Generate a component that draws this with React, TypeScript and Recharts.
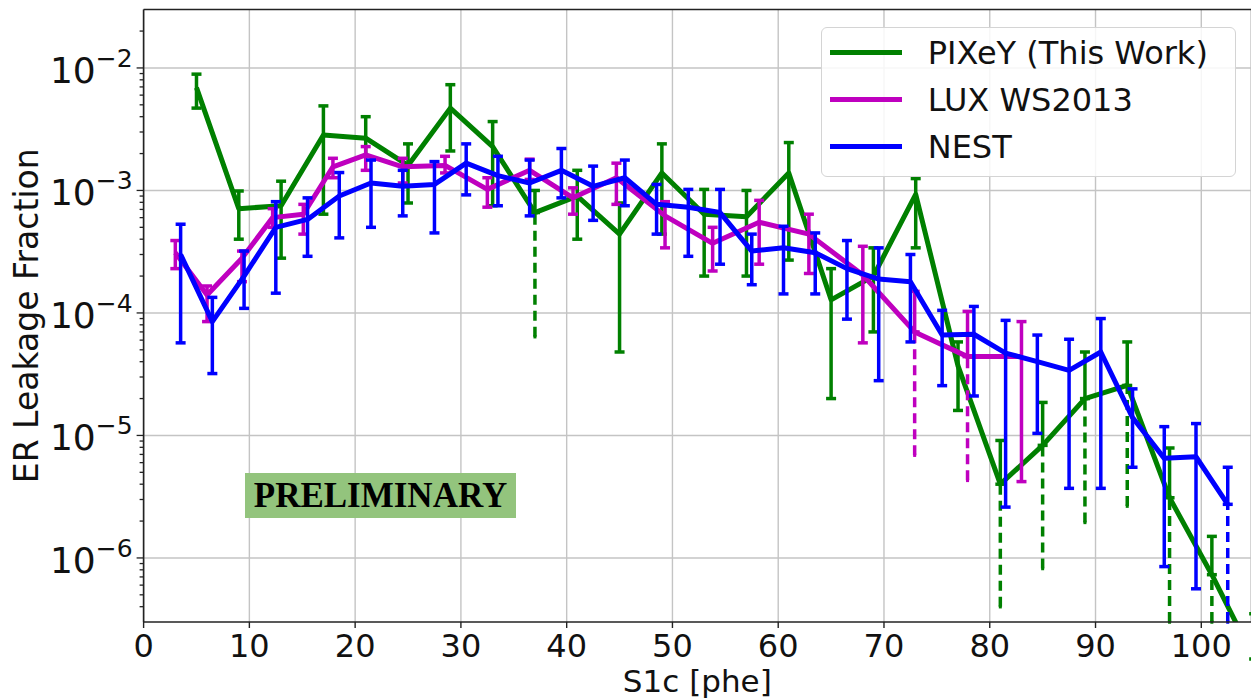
import React from 'react';
import { LineChart, Line, XAxis, YAxis, CartesianGrid, ErrorBar, Legend, ReferenceLine, Label } from 'recharts';

const W = 1251;
const H = 699;
const PLOT_LEFT = 143.6;
const PLOT_TOP = 9.5;
const PLOT_BOTTOM = 622;
const FONT = '"DejaVu Sans", sans-serif';

const X_DOMAIN = [0, 104.7];
const Y_DOMAIN = [3e-7, 3e-2];

const xTicks = [0, 10, 20, 30, 40, 50, 60, 70, 80, 90, 100];
const yMajor = [1e-6, 1e-5, 1e-4, 1e-3, 1e-2];
const yExponents = [-6, -5, -4, -3, -2];
const minorSteps = [2, 3, 4, 5, 6, 7, 8, 9];
const yDecades = [1e-7, 1e-6, 1e-5, 1e-4, 1e-3, 1e-2];

// PIXeY (this work)
const pixeyX = [5, 9, 13, 17, 21, 25, 29, 33, 37, 41, 45, 49, 53, 57, 61, 65, 69, 73, 77, 81, 85, 89, 93, 97, 101, 105];
const pixeyY = [6.9e-3, 7.1e-4, 7.5e-4, 2.84e-3, 2.67e-3, 1.6e-3, 4.7e-3, 2.28e-3, 6.6e-4, 9.0e-4, 4.4e-4, 1.39e-3, 6.4e-4,
  6.1e-4, 1.39e-3, 1.28e-4, 2.0e-4, 9.3e-4, 3.7e-5, 4.0e-6, 8.3e-6, 2.0e-5, 2.56e-5, 3.1e-6, 7.3e-7, 1.5e-7];
const pixeyLo = [4.7e-3, 4.0e-4, 2.8e-4, 6.4e-4, 1.9e-3, 7.9e-4, 2.1e-3, 7.5e-4, 6.4e-5, 4.0e-4, 4.8e-5, 4.4e-4, 2.0e-4,
  2.0e-4, 2.7e-4, 2.0e-5, 7.0e-5, 3.4e-4, 1.6e-5, 4.0e-7, 8.2e-7, 1.95e-6, 2.65e-6, 1e-7, 1e-7, 1e-7];
const pixeyHi = [8.9e-3, 9.9e-4, 1.19e-3, 4.9e-3, 4.0e-3, 2.4e-3, 7.3e-3, 3.65e-3, 1.0e-3, 1.46e-3, 7.9e-4, 2.4e-3, 1.02e-3,
  1.0e-3, 2.46e-3, 2.3e-4, 3.4e-4, 1.25e-3, 5.8e-5, 9.1e-6, 1.86e-5, 4.8e-5, 5.8e-5, 7.9e-6, 1.5e-6, 3.5e-7];
const pixeyDashed = [37, 81, 85, 89, 93, 97, 101, 105];

// LUX WS2013
const luxX = [3.0, 6.0, 9.3, 12.2, 15.1, 17.9, 21.0, 24.5, 28.5, 32.5, 36.5, 40.6, 44.7, 49.3, 53.8, 58.2, 62.9, 68.0, 72.9, 77.9, 83.0];
const luxY = [3.1e-4, 1.4e-4, 2.8e-4, 6.0e-4, 6.4e-4, 1.56e-3, 1.95e-3, 1.56e-3, 1.6e-3, 1.02e-3, 1.46e-3, 8.7e-4, 1.27e-3,
  6.2e-4, 3.7e-4, 5.5e-4, 4.4e-4, 2.04e-4, 7.0e-5, 4.4e-5, 4.4e-5];
const luxLo = [2.3e-4, 8.5e-5, 1.8e-4, 5.0e-4, 4.4e-4, 1.27e-3, 1.46e-3, 1.15e-3, 1.39e-3, 7.3e-4, 1.23e-3, 6.4e-4, 7.7e-4,
  3.4e-4, 2.2e-4, 2.5e-4, 2.1e-4, 5.7e-5, 6.9e-6, 4.3e-6, 4.2e-6];
const luxHi = [3.9e-4, 1.66e-4, 3.2e-4, 7.1e-4, 7.7e-4, 1.83e-3, 2.28e-3, 1.83e-3, 1.9e-3, 1.27e-3, 1.8e-3, 1.05e-3, 1.67e-3,
  8.1e-4, 5.0e-4, 8.3e-4, 6.4e-4, 3.5e-4, 1.5e-4, 1.03e-4, 8.5e-5];
const luxDashed = [72.9, 77.9];

// NEST
const nestX = [3.5, 6.5, 9.5, 12.5, 15.5, 18.5, 21.5, 24.5, 27.5, 30.5, 33.5, 36.5, 39.5, 42.5, 45.5, 48.5, 51.5, 54.5,
  57.5, 60.5, 63.5, 66.5, 69.5, 72.5, 75.5, 78.5, 81.5, 84.5, 87.5, 90.5, 93.5, 96.5, 99.5, 102.5];
const nestY = [3.0e-4, 8.5e-5, 2.0e-4, 5.0e-4, 5.8e-4, 9.0e-4, 1.15e-3, 1.08e-3, 1.12e-3, 1.67e-3, 1.32e-3, 1.15e-3, 1.46e-3,
  1.08e-3, 1.27e-3, 7.7e-4, 7.3e-4, 6.6e-4, 3.2e-4, 3.4e-4, 3.1e-4, 2.3e-4, 1.89e-4, 1.8e-4, 6.6e-5, 6.7e-5, 4.7e-5,
  4.0e-5, 3.4e-5, 4.8e-5, 1.4e-5, 6.5e-6, 6.7e-6, 2.74e-6];
const nestLo = [5.7e-5, 3.2e-5, 1.09e-4, 1.45e-4, 2.9e-4, 4.1e-4, 5.0e-4, 6.2e-4, 4.5e-4, 9.2e-4, 7.5e-4, 6.2e-4, 8.7e-4,
  5.7e-4, 7.5e-4, 4.4e-4, 2.9e-4, 2.5e-4, 1.7e-4, 1.43e-4, 1.43e-4, 8.9e-5, 2.8e-5, 5.8e-5, 2.55e-5, 2.1e-5, 2.6e-6,
  1.04e-5, 3.7e-6, 3.7e-6, 5.5e-6, 8.5e-7, 5.6e-7, 1e-7];
const nestHi = [5.3e-4, 1.34e-4, 3.2e-4, 8.1e-4, 8.7e-4, 1.4e-3, 1.77e-3, 1.46e-3, 1.72e-3, 2.4e-3, 1.9e-3, 1.77e-3, 2.2e-3,
  1.58e-3, 1.77e-3, 1.12e-3, 1.02e-3, 1.02e-3, 4.4e-4, 5.1e-4, 4.5e-4, 3.9e-4, 3.4e-4, 3.0e-4, 1.05e-4, 1.13e-4, 8.7e-5,
  6.6e-5, 6.1e-5, 9.0e-5, 2.4e-5, 1.18e-5, 1.25e-5, 5.5e-6];
const nestDashed = [102.5];

type Row = { x: number; y: number; lo: number; hi: number; dashed: boolean };

const rows = (xs: number[], ys: number[], lo: number[], hi: number[], dashed: number[]): Row[] =>
  xs.map((x, i) => ({ x, y: ys[i], lo: lo[i], hi: hi[i], dashed: dashed.includes(x) }));

const pixeyData = rows(pixeyX, pixeyY, pixeyLo, pixeyHi, pixeyDashed);
const luxData = rows(luxX, luxY, luxLo, luxHi, luxDashed);
const nestData = rows(nestX, nestY, nestLo, nestHi, nestDashed);

const yMinor = yDecades
  .flatMap((d) => minorSteps.map((m) => m * d))
  .filter((v) => v > Y_DOMAIN[0] * 1.01 && v < Y_DOMAIN[1] * 0.99);

// error accessors: full bar, upper half only (for points whose lower bar is dashed), dashed lower half
const fullErr = (r: Row) => (r.dashed ? null : [r.y - r.lo, r.hi - r.y]);
const upperErr = (r: Row) => (r.dashed ? [0, r.hi - r.y] : null);
const lowerDashErr = (r: Row) => (r.dashed ? [r.y - Math.max(r.lo, Y_DOMAIN[0]), 0] : null);

const series = [
  { name: 'PIXeY (This Work)', color: '#008000', data: pixeyData },
  { name: 'LUX WS2013', color: '#bf00bf', data: luxData },
  { name: 'NEST', color: '#0000ff', data: nestData },
];

// horizontal grid at the major decades, placed on the log axis
const logPos = (v: number, top: number, height: number) => {
  const a = Math.log10(Y_DOMAIN[0]);
  const b = Math.log10(Y_DOMAIN[1]);
  return top + ((b - Math.log10(v)) / (b - a)) * height;
};

const XTick = ({ x, payload }: any) => (
  <g>
    <line x1={x} x2={x} y1={PLOT_BOTTOM} y2={PLOT_BOTTOM + 6} stroke="#222" strokeWidth={1.4} />
    <text x={x} y={PLOT_BOTTOM + 35} textAnchor="middle" fontSize={32} fontFamily={FONT} fill="#111">
      {payload.value}
    </text>
  </g>
);

const YTick = ({ y, payload }: any) => {
  const idx = yMajor.indexOf(payload.value);
  const major = idx >= 0;
  return (
    <g>
      <line x1={PLOT_LEFT - (major ? 7 : 4)} x2={PLOT_LEFT} y1={y} y2={y} stroke="#222" strokeWidth={1.3} />
      {major && (
        <text x={PLOT_LEFT - 11} y={y + 15} textAnchor="end" fontSize={36} fontFamily={FONT} fill="#111">
          10
          <tspan fontSize={25} dy={-16}>{'\u2212' + Math.abs(yExponents[idx])}</tspan>
        </text>
      )}
    </g>
  );
};

// legend keeps the plotting order (Recharts would sort it by name)
const renderLegend = () => (
  <div
    style={{
      boxSizing: 'border-box',
      width: 415,
      height: 150,
      border: '1.5px solid #d4d4d4',
      borderRadius: 6,
      background: 'rgba(255,255,255,0.85)',
      position: 'relative',
      fontFamily: FONT,
    }}
  >
    {series.map((s, i) => (
      <div
        key={s.name}
        style={{ position: 'absolute', left: 8, top: 7 + i * 47, height: 36, display: 'flex', alignItems: 'center' }}
      >
        <div style={{ width: 72, height: 5, background: s.color }} />
        <span style={{ marginLeft: 26, fontSize: 32, lineHeight: '36px', color: '#111', whiteSpace: 'nowrap' }}>
          {s.name}
        </span>
      </div>
    ))}
  </div>
);

export default function App() {
  return (
    <div style={{ position: 'absolute', left: 0, top: 0, width: W, height: H, background: '#fff', overflow: 'hidden' }}>
      <LineChart width={W} height={H} margin={{ top: PLOT_TOP, right: 0, bottom: 0, left: 0 }}>
        <CartesianGrid
          stroke="#c4c4c4"
          strokeWidth={1.4}
          horizontalCoordinatesGenerator={(p: any) =>
            yMajor.map((v) => logPos(v, p.offset?.top ?? PLOT_TOP, p.offset?.height ?? PLOT_BOTTOM - PLOT_TOP))
          }
        />
        <XAxis
          dataKey="x"
          type="number"
          domain={X_DOMAIN}
          allowDataOverflow
          ticks={xTicks}
          interval={0}
          height={H - PLOT_BOTTOM}
          tickLine={false}
          axisLine={{ stroke: '#222', strokeWidth: 1.6 }}
          tick={(p: any) => <XTick {...p} />}
        >
          <Label
            content={() => (
              <text x={(PLOT_LEFT + W) / 2} y={692} textAnchor="middle" fontSize={31} fontFamily={FONT} fill="#111">
                S1c [phe]
              </text>
            )}
          />
        </XAxis>
        <YAxis
          type="number"
          scale="log"
          domain={Y_DOMAIN}
          allowDataOverflow
          ticks={[...yMinor, ...yMajor]}
          interval={0}
          width={PLOT_LEFT}
          tickLine={false}
          axisLine={{ stroke: '#222', strokeWidth: 1.6 }}
          tick={(p: any) => <YTick {...p} />}
        >
          <Label
            content={() => (
              <text
                x={38}
                y={(PLOT_TOP + PLOT_BOTTOM) / 2}
                transform={`rotate(-90 38 ${(PLOT_TOP + PLOT_BOTTOM) / 2})`}
                textAnchor="middle"
                fontSize={33}
                fontFamily={FONT}
                fill="#111"
              >
                ER Leakage Fraction
              </text>
            )}
          />
        </YAxis>
        <ReferenceLine y={Y_DOMAIN[1]} stroke="#222" strokeWidth={1.6} />
        {series.map((s) => (
          <Line
            key={s.name}
            data={s.data}
            dataKey="y"
            name={s.name}
            stroke={s.color}
            strokeWidth={5}
            strokeLinejoin="round"
            dot={false}
            activeDot={false}
            isAnimationActive={false}
          >
            <ErrorBar dataKey={fullErr} direction="y" width={5} stroke={s.color} strokeWidth={3.5} isAnimationActive={false} />
            <ErrorBar dataKey={upperErr} direction="y" width={5} stroke={s.color} strokeWidth={3.5} isAnimationActive={false} />
            <ErrorBar
              dataKey={lowerDashErr}
              direction="y"
              width={1.5}
              stroke={s.color}
              strokeWidth={3.5}
              strokeDasharray="10 6"
              isAnimationActive={false}
            />
          </Line>
        ))}
        <Legend
          verticalAlign="middle"
          layout="horizontal"
          align="center"
          wrapperStyle={{ top: 26.7, left: 820.7, width: 415, height: 150 }}
          content={renderLegend}
        />
      </LineChart>
      <div
        style={{
          position: 'absolute',
          left: 245,
          top: 473,
          width: 271,
          height: 45,
          background: '#93c47d',
          display: 'flex',
          alignItems: 'center',
          justifyContent: 'center',
          fontFamily: '"Liberation Serif", serif',
          fontWeight: 'bold',
          fontSize: 35,
          color: '#000',
        }}
      >
        PRELIMINARY
      </div>
    </div>
  );
}
